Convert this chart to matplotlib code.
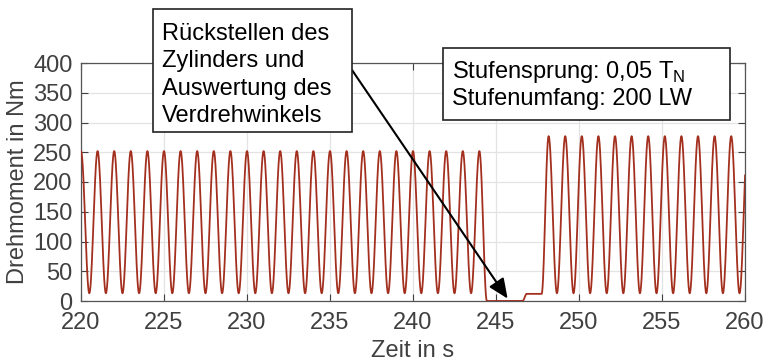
import numpy as np
import matplotlib
matplotlib.use("Agg")
import matplotlib.pyplot as plt
from matplotlib.patches import Rectangle

peak1_t = [220, 221, 222, 223, 224, 225, 226, 227, 228, 229, 230, 231, 232,
           233, 234, 235, 236, 237, 238, 239, 240, 241, 242, 243, 244]
valley1_t = [220.5, 221.5, 222.5, 223.5, 224.5, 225.5, 226.5, 227.5, 228.5,
             229.5, 230.5, 231.5, 232.5, 233.5, 234.5, 235.5, 236.5, 237.5,
             238.5, 239.5, 240.5, 241.5, 242.5, 243.5]
peak1_val = 252
valley1_val = 13

# Pause: Rueckstellen des Zylinders
pause_t = [244.45, 246.6, 246.85, 247.75]
pause_val = [0, 0, 12, 12]

peak2_t = [248.17, 249.17, 250.17, 251.17, 252.17, 253.17, 254.17, 255.17,
           256.17, 257.17, 258.17, 259.17, 260.17]
valley2_t = [248.67, 249.67, 250.67, 251.67, 252.67, 253.67, 254.67, 255.67,
             256.67, 257.67, 258.67, 259.67]
peak2_val = 277
valley2_val = 13

box1_lines = ["Rückstellen des", "Zylinders und", "Auswertung des", "Verdrehwinkels"]
box2_lines = ["Stufensprung: 0,05 T$_\\mathregular{N}$", "Stufenumfang: 200 LW"]

# Extrempunkte sortieren
ext = [(t, peak1_val) for t in peak1_t] + [(t, valley1_val) for t in valley1_t]
ext += list(zip(pause_t, pause_val))
ext += [(t, peak2_val) for t in peak2_t] + [(t, valley2_val) for t in valley2_t]
ext.sort()
ext_t = np.array([e[0] for e in ext])
ext_v = np.array([e[1] for e in ext], dtype=float)

# glatter Verlauf zwischen den Extrempunkten (Halbkosinus)
xs, ys = [], []
for i in range(len(ext_t) - 1):
    s = np.linspace(0, 1, 30, endpoint=False)
    w = 0.5 - 0.5 * np.cos(np.pi * s)
    xs.append(ext_t[i] + (ext_t[i + 1] - ext_t[i]) * s)
    ys.append(ext_v[i] + (ext_v[i + 1] - ext_v[i]) * w)
xs = np.concatenate(xs + [ext_t[-1:]])
ys = np.concatenate(ys + [ext_v[-1:]])

plt.rcParams['font.family'] = ['Liberation Sans', 'DejaVu Sans']
plt.rcParams['mathtext.fontset'] = 'custom'
plt.rcParams['mathtext.rm'] = 'Liberation Sans'

W, H = 766, 362
fs = 17
fig = plt.figure(figsize=(W / 100, H / 100), dpi=100)
ax = fig.add_axes([81 / W, 1 - 301 / H, (745 - 81) / W, (301 - 63) / H])

grau = '#404040'
ax.plot(xs, ys, color='#A3301F', linewidth=1.3, zorder=3)

ax.set_xlim(220, 260)
ax.set_ylim(0, 400)
ax.set_xticks(np.arange(220, 261, 5))
ax.set_yticks(np.arange(0, 401, 50))
ax.grid(True, color='#E3E3E3', linewidth=0.9)
ax.set_axisbelow(True)
ax.tick_params(direction='in', length=5, width=0.8, colors=grau,
               labelsize=fs, top=True, right=True)
ax.tick_params(axis='x', pad=8)
ax.tick_params(axis='y', pad=6)
for sp in ax.spines.values():
    sp.set_color('#555555')
    sp.set_linewidth(0.9)
ax.set_xlabel('Zeit in s', fontsize=fs, color=grau, labelpad=4.5)
ax.set_ylabel('Drehmoment in Nm', fontsize=fs, color=grau, labelpad=3)


def px(x, y):
    return x / W, 1 - y / H


# Pfeil zur Pause
ax.annotate('', xy=(245.7, 4), xycoords='data',
            xytext=px(352, 70), textcoords='figure fraction',
            arrowprops=dict(arrowstyle='-|>,head_length=0.8,head_width=0.35',
                            mutation_scale=15, color='black', lw=1.5,
                            shrinkA=0, shrinkB=0), zorder=5)

# Textfelder
for (x0, y0, x1, y1), lines, base0 in [((153, 9, 352, 132), box1_lines, 40),
                                       ((443, 48, 730, 120), box2_lines, 78)]:
    fig.patches.append(Rectangle(px(x0, y1), (x1 - x0) / W, (y1 - y0) / H,
                                 transform=fig.transFigure, facecolor='white',
                                 edgecolor='#222222', linewidth=1.2, zorder=6))
    for k, line in enumerate(lines):
        fig.text(*px(x0 + 9, base0 + k * 27.5), line, fontsize=fs,
                 color='black', va='baseline', ha='left', zorder=7)

fig.savefig('out.png', dpi=100)
